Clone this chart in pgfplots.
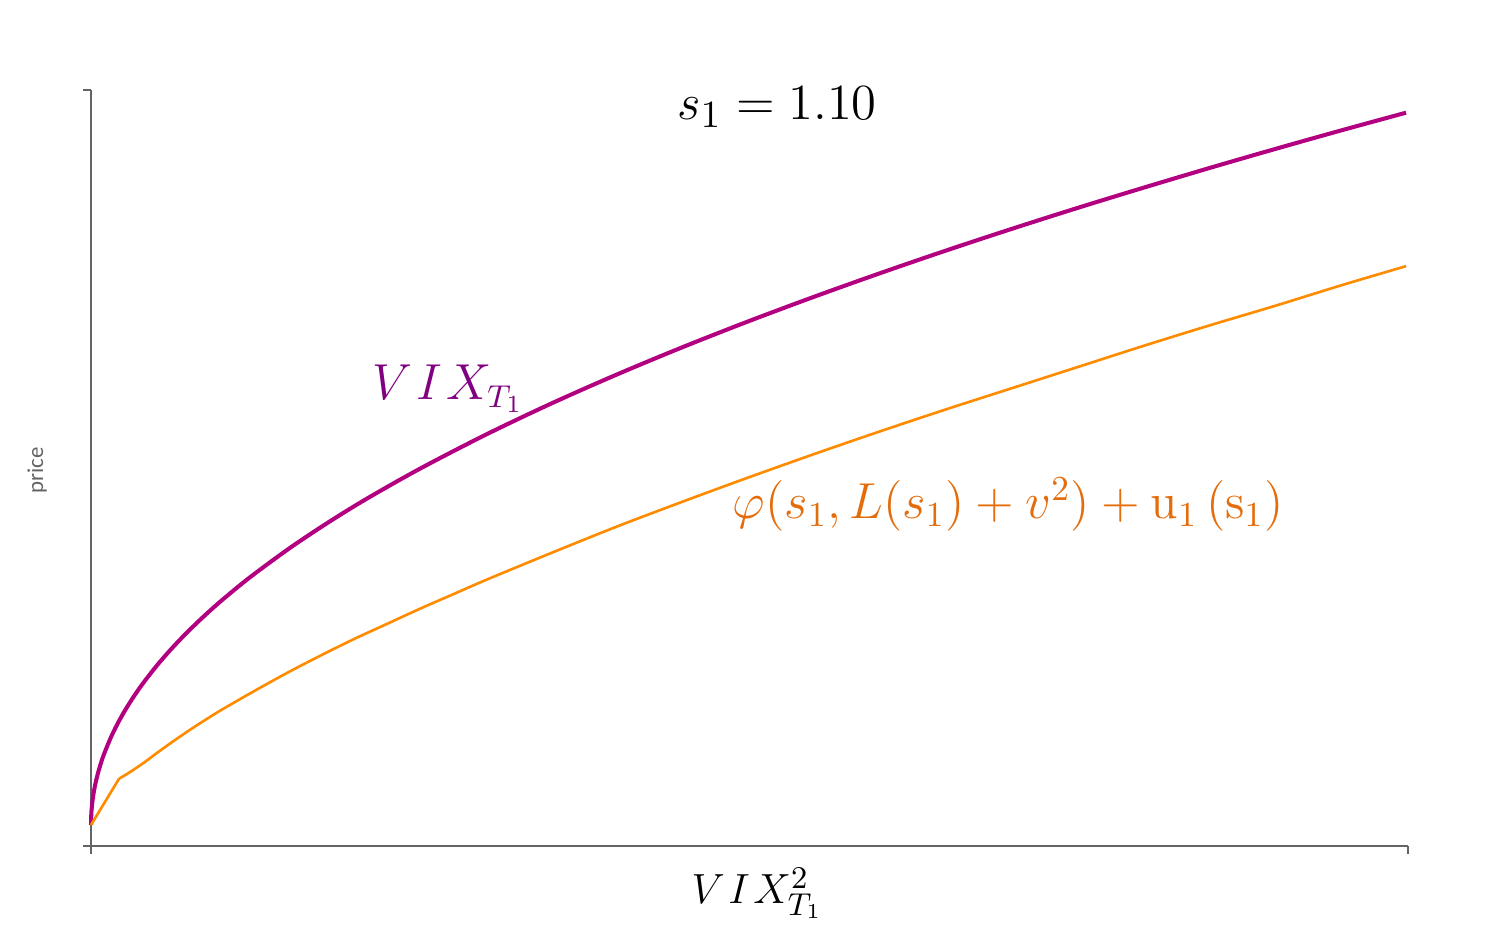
\documentclass[border=0pt]{standalone}
\usepackage{fontspec}
\usepackage{pgfplots}
\pgfplotsset{compat=1.18}
\newfontfamily\carlito{Carlito}
\definecolor{vixcurve}{RGB}{178,0,128}
\definecolor{vixlabel}{RGB}{128,0,128}
\definecolor{phicurve}{RGB}{255,140,0}
\definecolor{philabel}{RGB}{228,108,10}
\definecolor{axgray}{RGB}{100,100,100}
\begin{document}
\begin{tikzpicture}
\useasboundingbox (-0.91cm,-0.91cm) rectangle (14.09cm,8.46cm);
\begin{axis}[
  at={(0,0)}, anchor=south west,
  scale only axis, width=13.17cm, height=7.56cm,
  xmin=0, xmax=100, ymin=0, ymax=100,
  axis lines=left,
  axis line style={-, axgray, line width=0.6pt},
  xtick={0,100}, ytick={0,100},
  xticklabels={}, yticklabels={},
  tick align=outside,
  major tick length=0.08cm,
  tick style={axgray, line width=0.6pt},
  clip=false,
]
\addplot[vixcurve, line width=1.15pt, smooth, tension=0.5] coordinates {
(0,2.78) (0.02,4.11) (0.05,4.89) (0.1,5.76) (0.2,7.0) (0.3,7.95) (0.45,9.1) (0.6,10.08) (0.8,11.21) (1,12.21) (1.5,14.33) (2,16.12)
(2.5,17.69) (3,19.11) (3.5,20.42) (4,21.64) (5,23.87) (6,25.88) (7,27.73) (8,29.45) (9,31.07) (10,32.6) (12,35.45)
(15,39.30) (18,42.79) (21,46.0) (25,49.93) (30,54.43) (35,58.57) (40,62.42)
(45,66.04) (50,69.46) (55,72.71) (60,75.82) (65,78.81) (70,81.68) (75,84.45)
(80,87.12) (85,89.72) (90,92.24) (95,94.69) (99.85,97.0)
};
\addplot[phicurve, line width=0.75pt] coordinates {
(0,2.78) (2.13,8.9)
};
\addplot[phicurve, line width=0.75pt, smooth, tension=0.5] coordinates {
(2.13,8.9) (2.8,9.6) (3.5,10.4) (4.2,11.25) (5,12.3) (6.2,13.8) (7.5,15.35) (8.7,16.7) (10,18.1) (12.5,20.6) (15,23.0) (17.5,25.25) (20,27.4) (22.5,29.4) (25,31.4)
(27.5,33.3) (30,35.2) (35,38.8) (40,42.3) (45,45.6) (50,48.8) (55,51.9) (60,54.9)
(65,57.8) (70,60.6) (75,63.4) (80,66.2) (85,68.9) (90,71.5) (95,74.2) (99.85,76.7)
};
\node[font=\fontsize{15}{18}\selectfont] at (axis cs:52.1,97.7) {$s_1 = 1.10$};
\node[anchor=base west, text=vixlabel, font=\fontsize{13.5}{16}\selectfont] at (axis cs:20.4,59.0) {$V\mkern1.5mu I\mkern1.5mu X_{T_1}$};
\node[anchor=base west, text=philabel, font=\fontsize{14.3}{17}\selectfont] at (axis cs:47.8,43.3) {$\varphi(s_1, L(s_1) + v^2) + \mathrm{u}_1\,(\mathrm{s}_1)$};
\node[anchor=base, font=\fontsize{13}{16}\selectfont] at (axis cs:50.6,-7.6) {$V\mkern1.5mu I\mkern1.5mu X_{T_1}^2$};
\node[rotate=90, text=axgray, font=\carlito\fontsize{6.5}{8}\selectfont] at (axis cs:-4.1,49.7) {price};
\end{axis}
\end{tikzpicture}
\end{document}
